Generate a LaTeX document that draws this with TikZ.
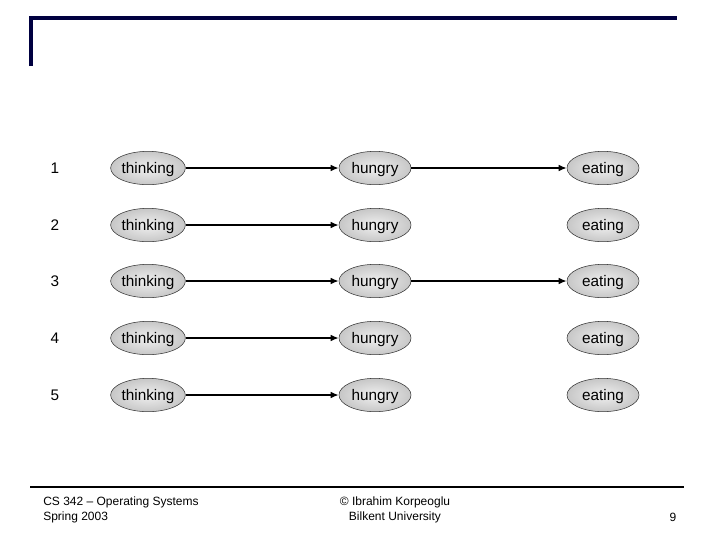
\documentclass[tikz,border=0pt]{standalone}
\usepackage{fontspec}
\setmainfont{Liberation Sans}
\usetikzlibrary{shapes.geometric,arrows.meta}
\definecolor{navy}{RGB}{0,0,64}
\begin{document}
\begin{tikzpicture}[x=0.75pt,y=-0.75pt,
  st/.style={ellipse,draw=black!80,thin,inner color=black!6,outer color=black!22,minimum width=54pt,minimum height=25pt,inner sep=0pt,text height=10pt,text depth=1.5pt,font=\fontsize{11.5}{13}\selectfont},
  arr/.style={-{Latex[length=6pt,width=5pt]},line width=1.1pt},
  num/.style={font=\fontsize{11.5}{13}\selectfont}]
\useasboundingbox (0,0) rectangle (720,540);
\draw[navy,line width=2.4pt] (31,66) -- (31,18) -- (677,18);
\draw[black,line width=1.5pt] (30,487) -- (684,487);
\foreach \i/\y in {1/168,2/225,3/281,4/338,5/395}{
  \node[num] (n\i) at (55,\y) {\i};
  \node[st] (t\i) at (148,\y) {thinking};
  \node[st] (h\i) at (375,\y) {hungry};
  \node[st] (e\i) at (603,\y) {eating};
  \draw[arr] (t\i) -- (h\i);
}
\draw[arr] (h1) -- (e1);
\draw[arr] (h3) -- (e3);
\node[anchor=north west,align=left,font=\fontsize{9}{11}\selectfont,inner sep=0pt] (f1) at (43,497) {CS 342 -- Operating Systems\\Spring 2003};
\node[anchor=north,align=center,font=\fontsize{9}{11}\selectfont,inner sep=0pt] (f2) at (395,497) {© Ibrahim Korpeoglu\\Bilkent University};
\node[font=\fontsize{9}{11}\selectfont,inner sep=0pt] (f3) at (673,517) {9};
\end{tikzpicture}
\end{document}
